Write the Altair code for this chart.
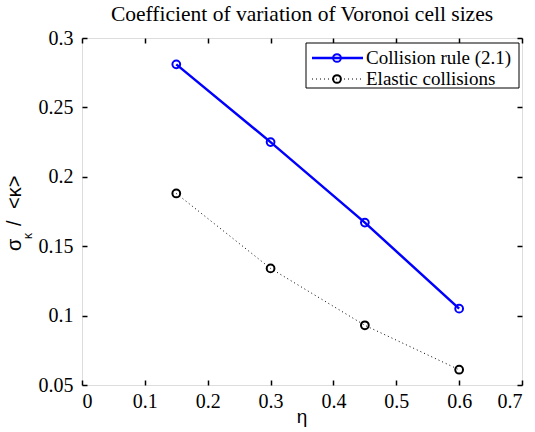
import altair as alt
import pandas as pd

# Measured coefficient of variation for each packing fraction
eta = [0.15, 0.30, 0.45, 0.60]
cv_collision_rule = [0.281, 0.225, 0.167, 0.105]
cv_elastic = [0.188, 0.134, 0.093, 0.061]

x_ticks = [0, 0.1, 0.2, 0.3, 0.4, 0.5, 0.6, 0.7]
y_ticks = [0.05, 0.1, 0.15, 0.2, 0.25, 0.3]

W, H = 440, 347
SERIF = "'Liberation Serif', 'Times New Roman', Times, serif"
SANS = "'Liberation Sans', Arial, Helvetica, sans-serif"
BLUE = "#0000ff"
LABEL_SIZE = 20

df_rule = pd.DataFrame({"eta": eta, "cv": cv_collision_rule})
df_el = pd.DataFrame({"eta": eta, "cv": cv_elastic})

xs = alt.Scale(domain=[0, 0.7], nice=False, zero=False)
ys = alt.Scale(domain=[0.05, 0.3], nice=False, zero=False)

TICK = 5


def xaxis(orient, labels):
    return alt.Axis(orient=orient, values=x_ticks, format=".1~f", title=None,
                    grid=False, domain=False, tickSize=TICK, offset=-TICK,
                    tickColor="black", tickWidth=1.5, labels=labels,
                    labelFont=SERIF, labelFontSize=LABEL_SIZE, labelColor="black",
                    labelPadding=TICK + 1)


def yaxis(orient, labels):
    return alt.Axis(orient=orient, values=y_ticks, format=".2~f", title=None,
                    grid=False, domain=False, tickSize=TICK, offset=-TICK,
                    tickColor="black", tickWidth=1.5, labels=labels,
                    labelFont=SERIF, labelFontSize=LABEL_SIZE, labelColor="black",
                    labelPadding=TICK + 4)


base_rule = alt.Chart(df_rule)
line_rule = base_rule.mark_line(color=BLUE, strokeWidth=2.5).encode(
    x=alt.X("eta:Q", scale=xs, axis=xaxis("bottom", True)),
    y=alt.Y("cv:Q", scale=ys, axis=yaxis("left", True)),
)
pts_rule = base_rule.mark_point(shape="circle", size=60, color=BLUE,
                                strokeWidth=2, filled=False, opacity=1).encode(
    x=alt.X("eta:Q", scale=xs, axis=xaxis("top", False)),
    y=alt.Y("cv:Q", scale=ys, axis=yaxis("right", False)),
)

base_el = alt.Chart(df_el)
line_el = base_el.mark_line(color="black", strokeWidth=1,
                            strokeDash=[1, 3]).encode(
    x=alt.X("eta:Q", scale=xs, axis=None),
    y=alt.Y("cv:Q", scale=ys, axis=None),
)
pts_el = base_el.mark_point(shape="circle", size=60, color="black",
                            strokeWidth=2, filled=False, opacity=1).encode(
    x=alt.X("eta:Q", scale=xs, axis=None),
    y=alt.Y("cv:Q", scale=ys, axis=None),
)

# Legend box drawn in pixel space
one = alt.Chart(pd.DataFrame({"k": [0]}))
lx0, lx1, ly0, ly1 = 224, 437, 5, 50
legend_box = one.mark_rect(fill="white", stroke="black", strokeWidth=1).encode(
    x=alt.value(lx0), x2=alt.value(lx1), y=alt.value(ly0), y2=alt.value(ly1))
r1, r2 = 20, 41
LEG_SIZE = 19
leg_line1 = one.mark_rule(color=BLUE, strokeWidth=2.5).encode(
    x=alt.value(230), x2=alt.value(281), y=alt.value(r1))
leg_pt1 = one.mark_point(shape="circle", size=60, color=BLUE, strokeWidth=2,
                         filled=False, opacity=1).encode(x=alt.value(255), y=alt.value(r1))
leg_txt1 = one.mark_text(align="left", baseline="middle", font=SERIF,
                         fontSize=LEG_SIZE, color="black").encode(
    x=alt.value(284), y=alt.value(r1), text=alt.value("Collision rule (2.1)"))
leg_line2 = one.mark_rule(color="black", strokeWidth=1, strokeDash=[1, 3]).encode(
    x=alt.value(230), x2=alt.value(281), y=alt.value(r2))
leg_pt2 = one.mark_point(shape="circle", size=60, color="black", strokeWidth=2,
                         filled=False, opacity=1).encode(x=alt.value(255), y=alt.value(r2))
leg_txt2 = one.mark_text(align="left", baseline="middle", font=SERIF,
                         fontSize=LEG_SIZE, color="black").encode(
    x=alt.value(284), y=alt.value(r2), text=alt.value("Elastic collisions"))

# Axis titles
x_title = one.mark_text(font=SANS, fontSize=19, baseline="alphabetic",
                        color="black").encode(
    x=alt.value(W / 2), y=alt.value(H + 38), text=alt.value("η"))


def ylabel_part(text, size, x, y):
    return one.mark_text(font=SANS, fontSize=size, angle=270, align="left",
                         baseline="alphabetic", color="black").encode(
        x=alt.value(x), y=alt.value(y), text=alt.value(text))


y_sigma = ylabel_part("σ", 20, -61, 213)
y_kappa = ylabel_part("κ", 12, -50, 201)
y_slash = ylabel_part("/", 20, -61, 188)
y_mean = ylabel_part("<κ>", 20, -61, 171)

chart = alt.layer(
    line_el, pts_el, line_rule, pts_rule,
    legend_box, leg_line1, leg_pt1, leg_txt1, leg_line2, leg_pt2, leg_txt2,
    x_title, y_sigma, y_kappa, y_slash, y_mean,
).resolve_axis(x="independent", y="independent").properties(
    width=W, height=H,
    title=alt.TitleParams("Coefficient of variation of Voronoi cell sizes",
                          font=SERIF, fontSize=21.5, fontWeight="normal",
                          color="black", offset=3, anchor="middle"),
    autosize=alt.AutoSizeParams(type="none"),
    padding={"left": 82, "top": 38, "right": 13, "bottom": 47},
).configure_view(stroke="black", strokeWidth=2).configure(background="white")

chart.save("out.html", embed_options={"renderer": "svg", "actions": False})
